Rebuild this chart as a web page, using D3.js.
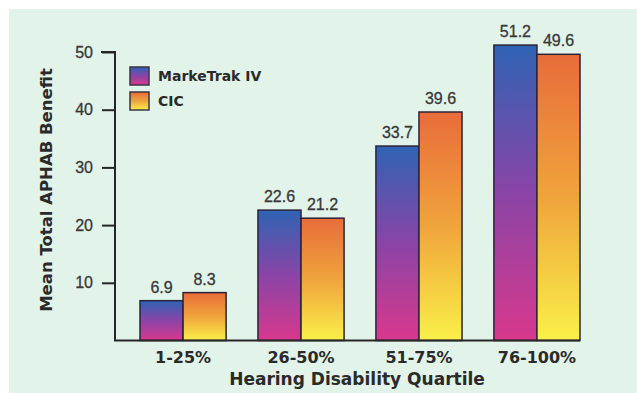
<!DOCTYPE html>
<html>
<head>
<meta charset="utf-8">
<script src="https://cdn.jsdelivr.net/npm/d3@7/dist/d3.min.js"></script>
<style>
  html, body { margin: 0; padding: 0; background: #ffffff; }
  svg { display: block; }
</style>
</head>
<body>
<script>
// Mean total APHAB benefit by hearing disability quartile
const categories = ["1-25%", "26-50%", "51-75%", "76-100%"];
const seriesNames = ["MarkeTrak IV", "CIC"];
const markeTrak = [6.9, 22.6, 33.7, 51.2];
const cic = [8.3, 21.2, 39.6, 49.6];
const yTicks = [10, 20, 30, 40, 50];

const W = 637, H = 393;
const svg = d3.select("body").append("svg").attr("width", W).attr("height", H);

// panel background
svg.append("rect").attr("x", 9).attr("y", 9).attr("width", W - 9).attr("height", H - 9)
  .attr("fill", "#e2f3e9");

const defs = svg.append("defs");
const gBlue = defs.append("linearGradient").attr("id", "gradBlue")
  .attr("x1", 0).attr("y1", 0).attr("x2", 0).attr("y2", 1);
gBlue.append("stop").attr("offset", "0%").attr("stop-color", "#2f63b4");
gBlue.append("stop").attr("offset", "50%").attr("stop-color", "#8a44a6");
gBlue.append("stop").attr("offset", "100%").attr("stop-color", "#d8388c");
const gOrange = defs.append("linearGradient").attr("id", "gradOrange")
  .attr("x1", 0).attr("y1", 0).attr("x2", 0).attr("y2", 1);
gOrange.append("stop").attr("offset", "0%").attr("stop-color", "#e86c3a");
gOrange.append("stop").attr("offset", "50%").attr("stop-color", "#f0a43c");
gOrange.append("stop").attr("offset", "100%").attr("stop-color", "#faf048");
const fills = ["url(#gradBlue)", "url(#gradOrange)"];

const axisLeft = 115, plotRight = 580;
const y = d3.scaleLinear().domain([0, 50]).range([340.5, 52]);
const x0 = d3.scaleBand().domain(categories).range([140, 580]).paddingInner(0.27).paddingOuter(0);
const x1 = d3.scaleBand().domain(seriesNames).range([0, x0.bandwidth()]).padding(0);

const ink = "#262626";
const labelFont = "'Liberation Sans', Arial, sans-serif";
const boldFont = "'DejaVu Sans', sans-serif";

// bars
const groups = svg.append("g").selectAll("g").data(categories).join("g")
  .attr("transform", d => `translate(${x0(d)},0)`);
groups.selectAll("rect")
  .data((d, i) => [markeTrak[i], cic[i]].map((v, j) => ({ v, j })))
  .join("rect")
  .attr("x", d => x1(seriesNames[d.j]))
  .attr("y", d => y(d.v))
  .attr("width", x1.bandwidth())
  .attr("height", d => y(0) - y(d.v))
  .attr("fill", d => fills[d.j])
  .attr("stroke", "#2a2438")
  .attr("stroke-width", 1.5);

// value labels
groups.selectAll("text.val")
  .data((d, i) => [markeTrak[i], cic[i]].map((v, j) => ({ v, j })))
  .join("text")
  .attr("class", "val")
  .attr("x", d => x1(seriesNames[d.j]) + x1.bandwidth() / 2)
  .attr("y", d => y(d.v) - 8)
  .attr("text-anchor", "middle")
  .attr("font-family", labelFont)
  .attr("font-size", 16)
  .attr("fill", "#383838")
  .attr("stroke", "#383838")
  .attr("stroke-width", 0.3)
  .text(d => d.v.toFixed(1));

// y axis
const yAxis = d3.axisLeft(y).tickValues(yTicks).tickSize(13).tickPadding(9);
const ya = svg.append("g").attr("transform", `translate(${axisLeft},0)`).call(yAxis);
ya.select(".domain").remove();
ya.selectAll(".tick line").attr("stroke", ink).attr("stroke-width", 2);
ya.selectAll(".tick text").attr("font-family", labelFont).attr("font-size", 16)
  .attr("fill", "#383838").attr("stroke", "#383838").attr("stroke-width", 0.3);
svg.append("path")
  .attr("d", `M${axisLeft - 14},${y(50)}H${axisLeft}V${y(0)}H${plotRight}`)
  .attr("fill", "none").attr("stroke", ink).attr("stroke-width", 2);

// category labels
svg.append("g").selectAll("text").data(categories).join("text")
  .attr("x", d => x0(d) + x0.bandwidth() / 2)
  .attr("y", 363)
  .attr("text-anchor", "middle")
  .attr("font-family", boldFont)
  .attr("font-weight", "bold")
  .attr("font-size", 16)
  .attr("fill", "#2a2a2a")
  .text(d => d);

// axis titles
svg.append("text")
  .attr("x", 357)
  .attr("y", 385)
  .attr("text-anchor", "middle")
  .attr("font-family", boldFont)
  .attr("font-weight", "bold")
  .attr("font-size", 17)
  .attr("fill", "#2a2a2a")
  .text("Hearing Disability Quartile");
svg.append("text")
  .attr("transform", "translate(52,190) rotate(-90)")
  .attr("text-anchor", "middle")
  .attr("font-family", boldFont)
  .attr("font-weight", "bold")
  .attr("font-size", 16.5)
  .attr("fill", "#2a2a2a")
  .text("Mean Total APHAB Benefit");

// legend
const legend = svg.append("g").attr("transform", "translate(130,67)");
const li = legend.selectAll("g").data(seriesNames).join("g")
  .attr("transform", (d, i) => `translate(0,${i * 25})`);
li.append("rect").attr("width", 19).attr("height", 18)
  .attr("fill", (d, i) => fills[i]).attr("stroke", "#3a3440").attr("stroke-width", 1.5);
li.append("text").attr("x", 28).attr("y", 14)
  .attr("font-family", boldFont).attr("font-weight", "bold").attr("font-size", 14)
  .attr("fill", "#2a2a2a")
  .text(d => d);
</script>
</body>
</html>
